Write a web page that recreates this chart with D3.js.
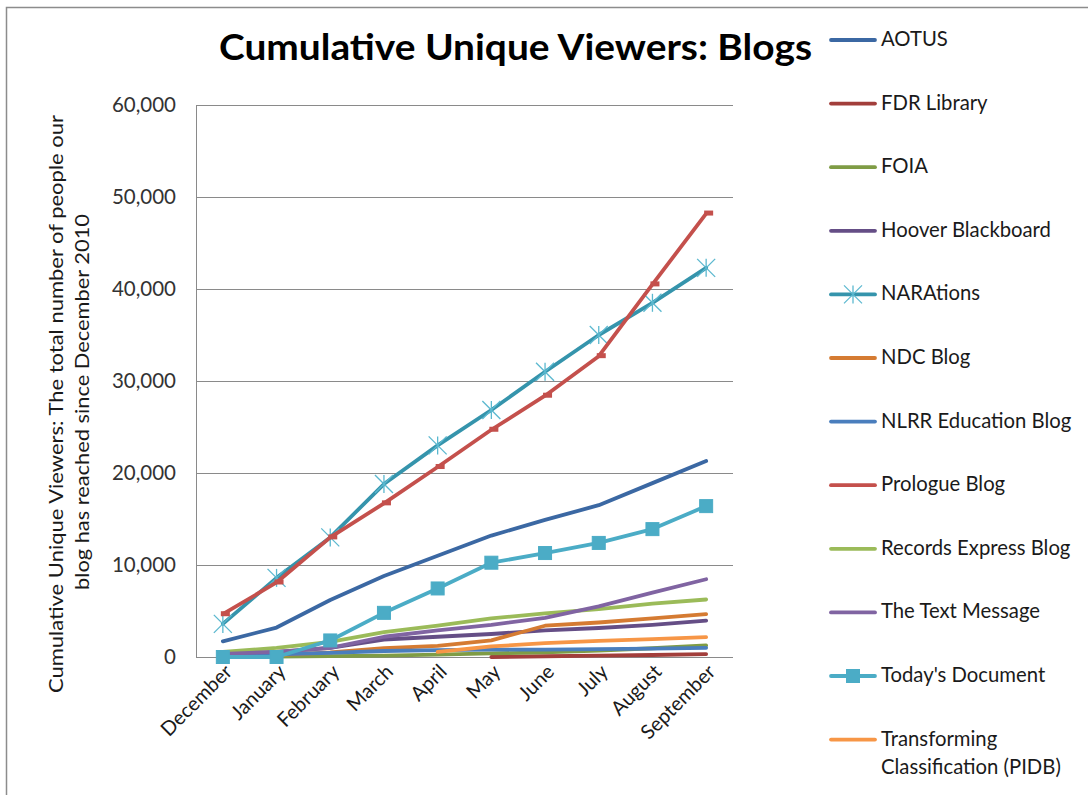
<!DOCTYPE html>
<html><head><meta charset="utf-8">
<script src="https://cdn.jsdelivr.net/npm/d3@7"></script>
<style>
html,body{margin:0;padding:0;background:#fff;}
text{font-family:Lato,"Open Sans",sans-serif;}
</style></head>
<body>
<svg id="chart" width="1088" height="795"></svg>
<script>
const months = ["December","January","February","March","April","May","June","July","August","September"];
const yTicks = [0,10000,20000,30000,40000,50000,60000];
const seriesNames = ["AOTUS","FDR Library","FOIA","Hoover Blackboard","NARAtions","NDC Blog","NLRR Education Blog","Prologue Blog","Records Express Blog","The Text Message","Today's Document","Transforming Classification (PIDB)"];
const seriesColors = ["#3B68A3","#A23E3B","#7F9C45","#654E86","#3594AC","#D57B32","#4A7EBD","#C4504C","#9BBB59","#8064A2","#4BACC6","#F79646"];
const seriesMarkers = ["none","none","none","none","star","none","none","dash","none","none","square","none"];
const aotus = [1700,3200,6200,8800,11000,13200,14900,16500,18900,21300];
const fdrLibrary = [null,null,null,null,null,0,80,150,220,320];
const foia = [0,50,100,150,250,400,500,700,950,1250];
const hoover = [300,550,1000,1900,2200,2500,2900,3150,3500,3950];
const narations = [3600,8600,13000,18800,23000,26850,31000,35000,38500,42300];
const ndcBlog = [100,200,500,950,1200,1800,3400,3750,4200,4650];
const nlrr = [200,300,450,650,750,800,800,850,900,1000];
const prologue = [4650,8100,13000,16700,20650,24700,28400,32700,40500,48200];
const recordsExpress = [550,1000,1650,2700,3400,4200,4750,5200,5800,6250];
const textMessage = [350,550,1000,2200,2900,3500,4250,5500,7000,8450];
const todaysDocument = [0,0,1800,4800,7450,10250,11300,12400,13900,16400];
const transforming = [null,null,null,null,550,1150,1500,1750,1950,2150];
const seriesValues = [aotus,fdrLibrary,foia,hoover,narations,ndcBlog,nlrr,prologue,recordsExpress,textMessage,todaysDocument,transforming];

const svg = d3.select("#chart");
svg.append("rect").attr("x",6.5).attr("y",7.5).attr("width",1100).attr("height",820)
  .attr("fill","none").attr("stroke","#8c8c8c").attr("stroke-width",1.5);

const x = d3.scalePoint().domain(months).range([196,733]).padding(0.5);
const y = d3.scaleLinear().domain([0,60000]).range([657,105]);

svg.append("g").selectAll("line").data(yTicks).join("line")
  .attr("x1",196).attr("x2",733).attr("y1",d=>y(d)+0.5).attr("y2",d=>y(d)+0.5)
  .attr("stroke","#8a8a8a").attr("stroke-width",1);
svg.append("line").attr("x1",196.5).attr("x2",196.5).attr("y1",105).attr("y2",657.5)
  .attr("stroke","#8a8a8a").attr("stroke-width",1);

const yAxis = svg.append("g").attr("transform","translate(196,0)")
  .call(d3.axisLeft(y).tickValues(yTicks).tickFormat(d3.format(",")).tickSize(0).tickPadding(20));
yAxis.select(".domain").remove();
yAxis.selectAll("text").attr("font-size",20.5).attr("fill","#333").style("font-family","Lato,sans-serif");

const xAxis = svg.append("g").attr("transform","translate(0,657)")
  .call(d3.axisBottom(x).tickSize(0).tickPadding(0));
xAxis.select(".domain").remove();
xAxis.selectAll("text")
  .attr("font-size",20).attr("fill","#1a1a1a").style("font-family","Lato,sans-serif")
  .attr("text-anchor","end").attr("dy",0).attr("y",0).attr("x",0)
  .attr("transform","translate(10,16) rotate(-45)");

const line = d3.line().defined(d=>d!=null).x((d,i)=>x(months[i])).y(d=>y(d));
const gSeries = svg.append("g");
seriesValues.forEach((vals,si)=>{
  const g = gSeries.append("g");
  g.append("path").datum(vals).attr("d",line).attr("fill","none")
    .attr("stroke",seriesColors[si]).attr("stroke-width",3.8)
    .attr("stroke-linejoin","round").attr("stroke-linecap","round");
  const pts = vals.map((v,i)=>({v,i})).filter(p=>p.v!=null);
  drawMarkers(g, pts.map(p=>[x(months[p.i]), y(p.v)]), seriesMarkers[si], seriesColors[si]);
});

function drawMarkers(g, pts, type, color){
  pts.forEach(([px,py])=>{
    if(type==="square"){
      g.append("rect").attr("x",px-6.5).attr("y",py-6.5).attr("width",13).attr("height",13)
        .attr("fill","#4BACC6").attr("stroke","#4BACC6");
    } else if(type==="star"){
      const r=9;
      const c="#5BB8CF";
      [[-r,-r,r,r],[-r,r,r,-r],[0,-r,0,r]].forEach(s=>{
        g.append("line").attr("x1",px+s[0]).attr("y1",py+s[1]).attr("x2",px+s[2]).attr("y2",py+s[3])
          .attr("stroke",c).attr("stroke-width",1.3);
      });
    } else if(type==="dash"){
      g.append("rect").attr("x",px-2).attr("y",py-3).attr("width",9).attr("height",5)
        .attr("fill",color);
    }
  });
}

svg.append("text").attr("x",219).attr("y",60).attr("font-size",36).attr("font-weight","bold")
  .attr("fill","#000").attr("textLength",593).attr("lengthAdjust","spacingAndGlyphs")
  .text("Cumulative Unique Viewers: Blogs");

const yt = svg.append("g").attr("transform","translate(0,404) rotate(-90)");
yt.append("text").attr("x",0).attr("y",63).attr("text-anchor","middle").attr("font-size",19.5)
  .attr("fill","#1a1a1a").attr("textLength",578).attr("lengthAdjust","spacingAndGlyphs")
  .text("Cumulative Unique Viewers: The total number of people our");
yt.append("text").attr("x",2).attr("y",89).attr("text-anchor","middle").attr("font-size",19.5)
  .attr("fill","#1a1a1a").attr("textLength",376).attr("lengthAdjust","spacingAndGlyphs")
  .text("blog has reached since December 2010");

const legend = svg.append("g");
seriesNames.forEach((name,i)=>{
  const ly = 40 + i*63.6;
  const g = legend.append("g");
  g.append("line").attr("x1",831).attr("x2",875).attr("y1",ly).attr("y2",ly)
    .attr("stroke",seriesColors[i]).attr("stroke-width",3.8).attr("stroke-linecap","round");
  if(seriesMarkers[i]==="star"||seriesMarkers[i]==="square") drawMarkers(g,[[853,ly]],seriesMarkers[i],seriesColors[i]);
  const t = g.append("text").attr("x",881).attr("y",ly+6).attr("font-size",20.3).attr("fill","#1a1a1a");
  if(name.startsWith("Transforming")){
    t.append("tspan").attr("x",881).text("Transforming");
    t.append("tspan").attr("x",881).attr("dy",28).text("Classification (PIDB)");
  } else t.text(name);
});
</script>
</body></html>
